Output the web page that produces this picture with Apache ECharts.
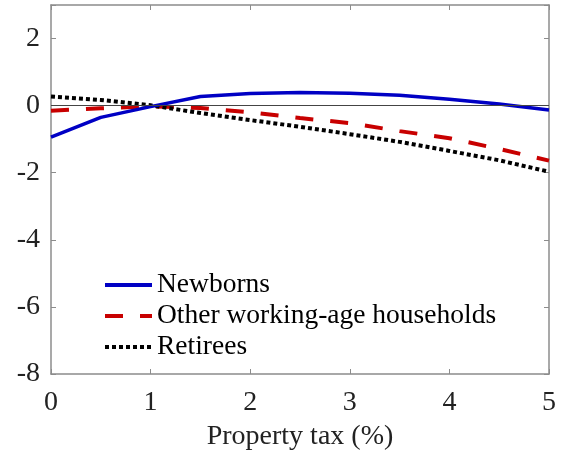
<!DOCTYPE html>
<html>
<head>
<meta charset="utf-8">
<script src="https://cdn.jsdelivr.net/npm/echarts@6/dist/echarts.min.js"></script>
<style>
  html, body { margin: 0; padding: 0; background: #fff; }
  #chart { width: 564px; height: 459px; }
</style>
</head>
<body>
<div id="chart"></div>
<script>
// property tax rate (%)
var taxRates = [0, 0.5, 1, 1.5, 2, 2.5, 3, 3.5, 4, 4.5, 5];
var newborns = [-0.94, -0.35, -0.03, 0.27, 0.36, 0.39, 0.37, 0.31, 0.19, 0.05, -0.13];
var otherWorking = [-0.15, -0.08, -0.02, -0.07, -0.2, -0.37, -0.52, -0.76, -0.97, -1.29, -1.64];
var retirees = [0.27, 0.17, 0.01, -0.22, -0.43, -0.63, -0.85, -1.08, -1.35, -1.63, -1.97];
var yTicks = [-8, -6, -4, -2, 0, 2];

var font = '"Liberation Serif", "Times New Roman", serif';
var axisGray = '#8c8c8c';

function pairs(vals) {
  return taxRates.map(function (x, i) { return [x, vals[i]]; });
}

// frame axis (top / right copies have ticks only)
function frameLine() {
  return { show: true, onZero: false, lineStyle: { color: axisGray, width: 1.5 } };
}
function frameTick() {
  return { show: true, inside: true, length: 5, lineStyle: { color: axisGray } };
}

var chart = echarts.init(document.getElementById('chart'));
var option = {
  animation: false,
  backgroundColor: '#fff',
  grid: { left: 51, right: 15, top: 5, bottom: 85, containLabel: false },
  legend: {
    orient: 'vertical',
    left: 98,
    top: 266,
    itemWidth: 47,
    itemHeight: 10,
    itemGap: 3,
    itemStyle: { opacity: 0 },
    lineStyle: { width: 4 },
    textStyle: { fontFamily: font, fontSize: 27.5, color: '#000' },
    data: ['Newborns', 'Other working-age households', 'Retirees']
  },
  xAxis: [{
    type: 'value', min: 0, max: 5, interval: 1,
    name: 'Property tax (%)', nameLocation: 'middle', nameGap: 49,
    nameTextStyle: { fontFamily: font, fontSize: 28, color: '#222' },
    axisLine: frameLine(),
    axisTick: frameTick(),
    axisLabel: { fontFamily: font, fontSize: 28, color: '#222', margin: 15 },
    splitLine: { show: false }
  }, {
    type: 'value', min: 0, max: 5, interval: 1, position: 'top',
    axisLine: frameLine(),
    axisTick: frameTick(),
    axisLabel: { show: false },
    splitLine: { show: false }
  }],
  yAxis: [{
    type: 'value', min: -8, max: 3, interval: 2,
    axisLine: frameLine(),
    axisTick: frameTick(),
    axisLabel: {
      fontFamily: font, fontSize: 28, color: '#222', margin: 11,
      formatter: function (v) { return yTicks.indexOf(v) >= 0 ? String(v) : ''; }
    },
    splitLine: { show: false }
  }, {
    type: 'value', min: -8, max: 3, interval: 2, position: 'right',
    axisLine: frameLine(),
    axisTick: frameTick(),
    axisLabel: { show: false },
    splitLine: { show: false }
  }],
  series: [{
    name: 'Newborns',
    type: 'line',
    data: pairs(newborns),
    symbol: 'none',
    color: '#0000c4',
    lineStyle: { color: '#0000c4', width: 3.5 },
    markLine: {
      silent: true,
      symbol: ['none', 'none'],
      label: { show: false },
      lineStyle: { color: '#444', width: 1, type: 'solid' },
      data: [{ yAxis: 0 }]
    },
    z: 4
  }, {
    name: 'Other working-age households',
    type: 'line',
    data: pairs(otherWorking),
    symbol: 'none',
    color: '#c80000',
    lineStyle: { color: '#c80000', width: 4, type: [18, 17], cap: 'butt' },
    z: 3
  }, {
    name: 'Retirees',
    type: 'line',
    data: pairs(retirees),
    symbol: 'none',
    color: '#000',
    lineStyle: { color: '#000', width: 4, type: [4, 3], cap: 'butt' },
    z: 3
  }]
};
chart.setOption(option);
</script>
</body>
</html>
